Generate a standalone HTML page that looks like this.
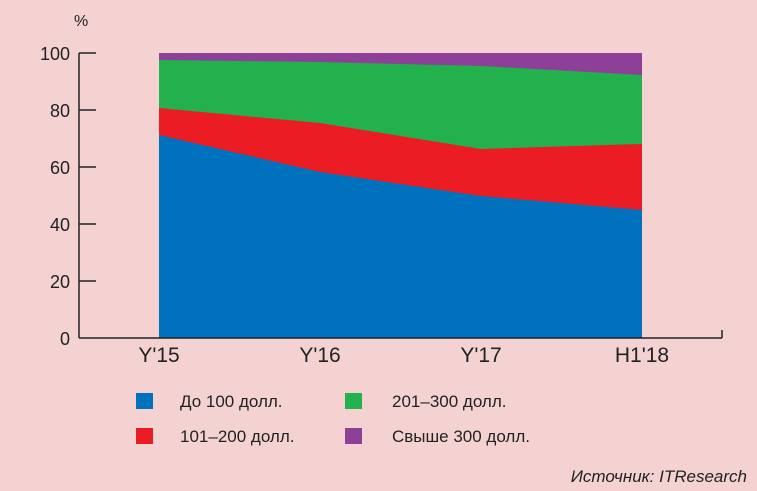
<!DOCTYPE html>
<html><head><meta charset="utf-8"><style>
body{margin:0;background:#f4d2d2;}
svg{display:block;font-family:"Liberation Sans","DejaVu Sans",sans-serif;}
</style></head><body>
<svg width="757" height="491" viewBox="0 0 757 491" xmlns="http://www.w3.org/2000/svg">
<rect width="757" height="491" fill="#f4d2d2"/>
<polygon points="159,53 320,53 481,53 642,53 642,338 159,338" fill="#8e3f98"/>
<polygon points="159,60 320,62 481,66 642,75 642,338 159,338" fill="#22b14c"/>
<polygon points="159,108 320,123 481,149 642,144 642,338 159,338" fill="#ec1c24"/>
<polygon points="159,135 320,172 481,196 642,210 642,338 159,338" fill="#0071bc"/>
<g stroke="#222" stroke-width="1.5" fill="none">
<line x1="79" y1="53" x2="79" y2="338"/>
<line x1="79" y1="338" x2="722" y2="338"/>
<line x1="722" y1="338" x2="722" y2="330"/>
<line x1="79" y1="53" x2="96" y2="53"/>
<line x1="79" y1="110" x2="96" y2="110"/>
<line x1="79" y1="167" x2="96" y2="167"/>
<line x1="79" y1="224" x2="96" y2="224"/>
<line x1="79" y1="281" x2="96" y2="281"/>
</g>
<g font-size="18" fill="#222" text-anchor="end">
<text x="70" y="60">100</text><text x="70" y="117">80</text><text x="70" y="174">60</text>
<text x="70" y="231">40</text><text x="70" y="288">20</text><text x="70" y="345">0</text>
</g>
<text x="74" y="26" font-size="16" fill="#222">%</text>
<g font-size="21" fill="#222" text-anchor="middle">
<text x="159" y="362">Y'15</text><text x="320" y="362">Y'16</text><text x="481" y="362">Y'17</text><text x="642" y="362">H1'18</text>
</g>
<rect x="136" y="393" width="17" height="16" fill="#0071bc"/>
<rect x="136" y="428" width="17" height="16" fill="#ec1c24"/>
<rect x="345" y="393" width="17" height="16" fill="#22b14c"/>
<rect x="345" y="428" width="17" height="16" fill="#8e3f98"/>
<g font-size="17" fill="#222">
<text x="180" y="407">До 100 долл.</text>
<text x="180" y="442">101–200 долл.</text>
<text x="392" y="407">201–300 долл.</text>
<text x="392" y="442">Свыше 300 долл.</text>
</g>
<text x="747" y="482" font-size="17" font-style="italic" fill="#222" text-anchor="end">Источник: ITResearch</text>
</svg>
</body></html>
